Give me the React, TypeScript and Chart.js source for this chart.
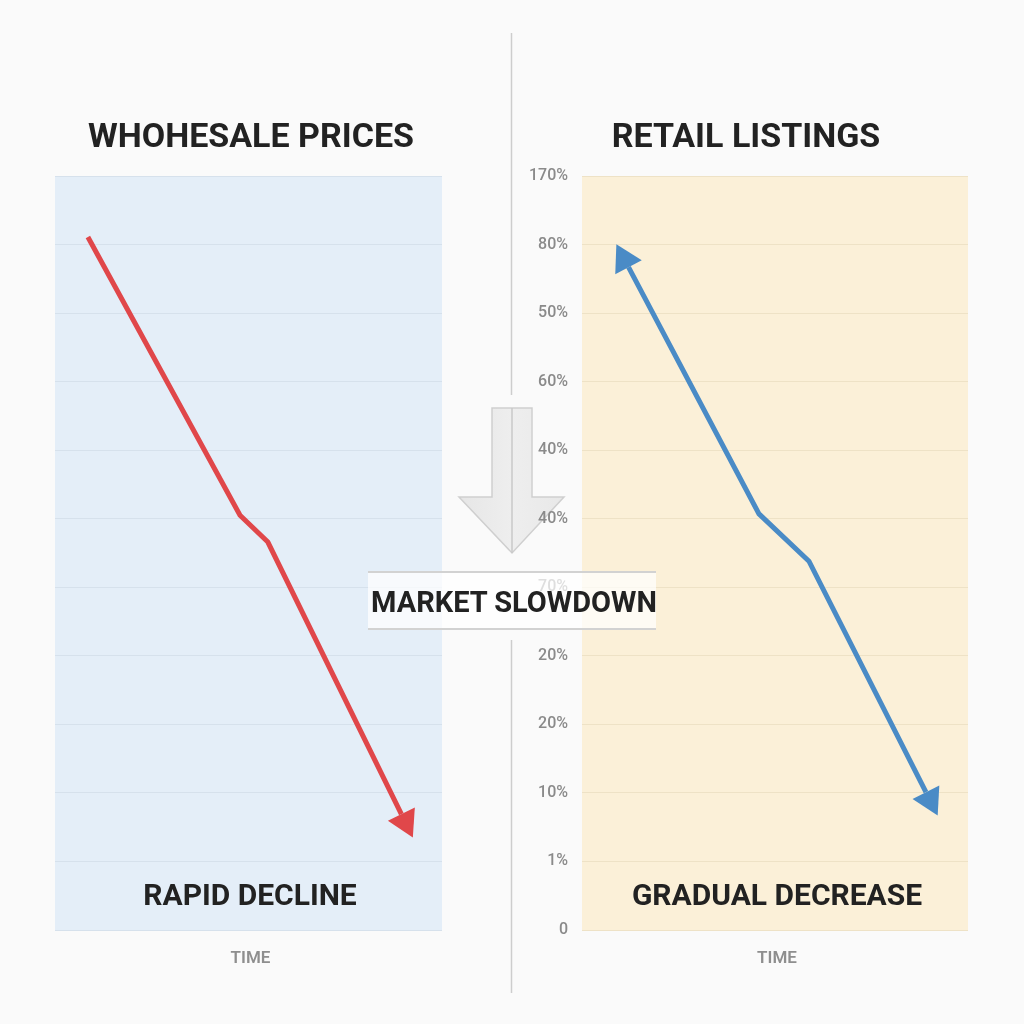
import React, { useEffect, useRef } from "react";
import { Chart, registerables } from "chart.js";

Chart.register(...registerables);

// ---- data ----
const wholesaleTime = [8.5, 47.8, 55.0, 89.5];
const wholesaleValues = [10.11, 6.05, 5.66, 1.69];
const retailTime = [12.05, 45.85, 58.8, 89.1];
const retailValues = [9.67, 6.07, 5.38, 2.01];
// right axis tick labels, top (value 11) to bottom (value 0)
const retailTickLabels = ["170%", "80%", "50%", "60%", "40%", "40%", "70%", "20%", "20%", "10%", "1%", "0"];

const leftTitle = "WHOHESALE PRICES";
const rightTitle = "RETAIL LISTINGS";
const leftNote = "RAPID DECLINE";
const rightNote = "GRADUAL DECREASE";
const xLabel = "TIME";
const centerLabel = "MARKET SLOWDOWN";

const RED = "#e0474a";
const BLUE = "#4a8bc6";
const FONT = "Roboto, 'Noto Sans', 'DejaVu Sans', sans-serif";

function arrowHead(ctx: CanvasRenderingContext2D, from: any, to: any, color: string) {
  const dx = to.x - from.x;
  const dy = to.y - from.y;
  const len = Math.hypot(dx, dy) || 1;
  const ux = dx / len;
  const uy = dy / len;
  const L = 26;
  const W = 15;
  const tipX = to.x + ux * L;
  const tipY = to.y + uy * L;
  ctx.save();
  ctx.fillStyle = color;
  ctx.beginPath();
  ctx.moveTo(tipX, tipY);
  ctx.lineTo(to.x - uy * W, to.y + ux * W);
  ctx.lineTo(to.x + uy * W, to.y - ux * W);
  ctx.closePath();
  ctx.fill();
  ctx.restore();
}

function makePanelPlugin(bg: string, title: string, titleX: number, note: string, noteX: number) {
  return {
    id: "panel",
    beforeDraw(chart: any) {
      const { ctx, chartArea } = chart;
      ctx.save();
      ctx.fillStyle = bg;
      ctx.fillRect(chartArea.left, chartArea.top, chartArea.right - chartArea.left, chartArea.bottom - chartArea.top);
      ctx.restore();
    },
    afterDatasetsDraw(chart: any) {
      const ctx = chart.ctx;
      chart.data.datasets.forEach((ds: any, i: number) => {
        const pts = chart.getDatasetMeta(i).data;
        if (pts.length < 2) return;
        if (ds.arrowEnd) arrowHead(ctx, pts[pts.length - 2], pts[pts.length - 1], ds.borderColor);
        if (ds.arrowStart) arrowHead(ctx, pts[1], pts[0], ds.borderColor);
      });
    },
    afterDraw(chart: any) {
      const { ctx, chartArea } = chart;
      ctx.save();
      ctx.textAlign = "center";
      ctx.textBaseline = "middle";
      ctx.fillStyle = "#222222";
      ctx.font = `bold 34px ${FONT}`;
      ctx.fillText(title, titleX, 138);
      ctx.font = `bold 30px ${FONT}`;
      ctx.fillText(note, noteX, 897);
      ctx.fillStyle = "#8e8e8e";
      ctx.font = `600 17px ${FONT}`;
      ctx.fillText(xLabel, (chartArea.left + chartArea.right) / 2 + 2, 959);
      ctx.restore();
    },
  };
}

function baseOptions(padLeft: number, padRight: number, gridColor: string, showTicks: boolean): any {
  return {
    responsive: false,
    animation: false,
    events: [],
    layout: { padding: { left: padLeft, right: padRight, top: 176, bottom: 94 } },
    plugins: { legend: { display: false }, tooltip: { enabled: false }, title: { display: false } },
    scales: {
      x: { type: "linear", min: 0, max: 100, display: false },
      y: {
        type: "linear",
        min: 0,
        max: 11,
        border: { display: false },
        grid: { color: gridColor, lineWidth: 1, drawTicks: false },
        ticks: {
          display: showTicks,
          stepSize: 1,
          padding: 14,
          color: "#8a8a8a",
          font: { family: FONT, size: 16, weight: "500" },
          callback: (v: number) => retailTickLabels[11 - Math.round(v)],
        },
        afterFit: (s: any) => {
          s.width = showTicks ? 60 : 0;
        },
      },
    },
  };
}

export default function App() {
  const leftRef = useRef<HTMLCanvasElement>(null);
  const rightRef = useRef<HTMLCanvasElement>(null);

  useEffect(() => {
    document.body.style.margin = "0";
    const left = new Chart(leftRef.current as HTMLCanvasElement, {
      type: "line",
      data: {
        datasets: [
          {
            data: wholesaleTime.map((x, i) => ({ x, y: wholesaleValues[i] })),
            borderColor: RED,
            borderWidth: 5,
            pointRadius: 0,
            tension: 0,
            fill: false,
            arrowEnd: true,
          } as any,
        ],
      },
      options: baseOptions(55, 70, "#d6e1ec", false),
      plugins: [makePanelPlugin("#e4eef8", leftTitle, 251, leftNote, 250)],
    });
    const right = new Chart(rightRef.current as HTMLCanvasElement, {
      type: "line",
      data: {
        datasets: [
          {
            data: retailTime.map((x, i) => ({ x, y: retailValues[i] })),
            borderColor: BLUE,
            borderWidth: 5,
            pointRadius: 0,
            tension: 0,
            fill: false,
            arrowEnd: true,
            arrowStart: true,
          } as any,
        ],
      },
      options: baseOptions(10, 56, "#eee2c6", true),
      plugins: [makePanelPlugin("#fbf0d8", rightTitle, 234, rightNote, 265)],
    });
    return () => {
      left.destroy();
      right.destroy();
    };
  }, []);

  return (
    <div style={{ position: "relative", width: 1024, height: 1024, background: "#fafafa", overflow: "hidden" }}>
      <svg width={1024} height={1024} style={{ position: "absolute", left: 0, top: 0 }}>
        <line x1={511.5} y1={33} x2={511.5} y2={395} stroke="#cdcdcd" strokeWidth={1.5} />
        <line x1={511.5} y1={640} x2={511.5} y2={993} stroke="#cdcdcd" strokeWidth={1.5} />
        <defs>
          <linearGradient id="ag" x1="0" y1="0" x2="1" y2="0">
            <stop offset="0" stopColor="#e6e6e6" />
            <stop offset="0.5" stopColor="#eeeeee" />
            <stop offset="1" stopColor="#e8e8e8" />
          </linearGradient>
        </defs>
        <polygon
          points="492,408 532,408 532,497 564,497 512,553 459,497 492,497"
          fill="url(#ag)"
          stroke="#cfcfcf"
          strokeWidth={1.5}
        />
        <line x1={512} y1={408} x2={512} y2={553} stroke="#c8c8c8" strokeWidth={1.5} />
      </svg>
      <canvas ref={leftRef} width={512} height={1024} style={{ position: "absolute", left: 0, top: 0, width: 512, height: 1024 }} />
      <canvas ref={rightRef} width={512} height={1024} style={{ position: "absolute", left: 512, top: 0, width: 512, height: 1024 }} />
      <div
        style={{
          position: "absolute",
          left: 368,
          top: 571,
          width: 288,
          height: 59,
          background: "rgba(255,255,255,0.72)",
          borderTop: "2px solid #d2d2d2",
          borderBottom: "2px solid #d2d2d2",
          display: "flex",
          alignItems: "center",
          justifyContent: "center",
          fontFamily: FONT,
          fontWeight: 700,
          fontSize: 29,
          color: "#222222",
          whiteSpace: "nowrap",
          letterSpacing: 0,
          paddingLeft: 4,
          paddingTop: 3,
          boxSizing: "border-box",
        }}
      >
        {centerLabel}
      </div>
    </div>
  );
}
